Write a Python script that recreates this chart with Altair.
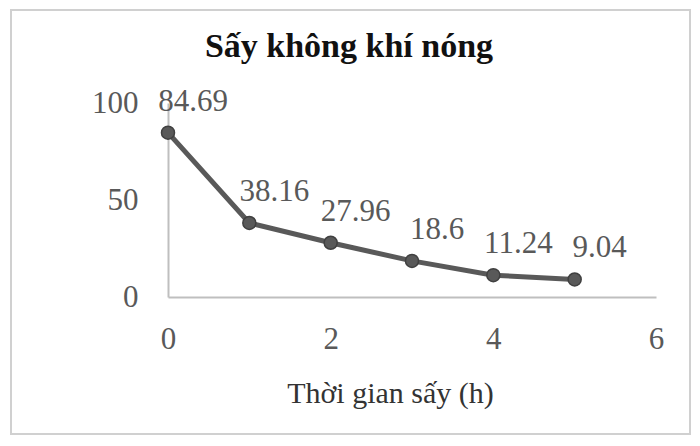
import altair as alt
import pandas as pd

hours = [0, 1, 2, 3, 4, 5]
moisture = [84.69, 38.16, 27.96, 18.6, 11.24, 9.04]
labels = ["84.69", "38.16", "27.96", "18.6", "11.24", "9.04"]
chart_title = ["Sấy không khí nóng"]

df = pd.DataFrame({"t": hours, "m": moisture, "lab": labels})

FONT = "Liberation Serif"
GREY = "#595959"

base = alt.Chart(df)

x = alt.X("t:Q", scale=alt.Scale(domain=[0, 6], nice=False),
          axis=alt.Axis(values=[0, 2, 4, 6], title="Thời gian sấy (h)", grid=False,
                        ticks=False, domainColor="#bfbfbf", domainWidth=2,
                        labelFlush=False,
                        labelFont=FONT, labelFontSize=31, labelColor=GREY, labelPadding=27,
                        titleFont=FONT, titleFontSize=30, titleFontWeight="normal",
                        titleColor="#333333", titleX=222, titleY=96,
                        titleBaseline="middle", titleAlign="center"))
y = alt.Y("m:Q", scale=alt.Scale(domain=[0, 100], nice=False),
          axis=alt.Axis(values=[0, 50, 100], title=None, grid=False, ticks=False,
                        domainColor="#bfbfbf", domainWidth=2, labelFlush=False,
                        labelFont=FONT, labelFontSize=31, labelColor=GREY, labelPadding=30))

line = base.mark_line(color=GREY, strokeWidth=5).encode(x=x, y=y)
pts = base.mark_point(filled=True, size=170, color=GREY, stroke="#404040",
                      strokeWidth=1.5, opacity=1).encode(x=x, y=y)
txt = base.mark_text(font=FONT, fontSize=31, color=GREY, align="center",
                     baseline="middle", dx=25, dy=-31).encode(x=x, y=y, text="lab:N")

one = alt.Chart(pd.DataFrame({"title": chart_title}))
border = one.mark_rect(fill="transparent", stroke="#d0d0d0", strokeWidth=2).encode(
    x=alt.value(-157), x2=alt.value(522), y=alt.value(-93), y2=alt.value(331))
title = one.mark_text(font=FONT, fontSize=34, fontWeight="bold", color="#111111",
                      align="center", baseline="middle").encode(
    x=alt.value(181), y=alt.value(-56), text="title:N")

chart = alt.layer(border, line, pts, txt, title).properties(
    width=488, height=194,
    autosize=alt.AutoSizeParams(type="none"),
    padding={"left": 160, "top": 95, "right": 36, "bottom": 141},
).configure(background="white").configure_view(stroke=None)

chart.save("out.html", embed_options={"renderer": "svg", "actions": False})
